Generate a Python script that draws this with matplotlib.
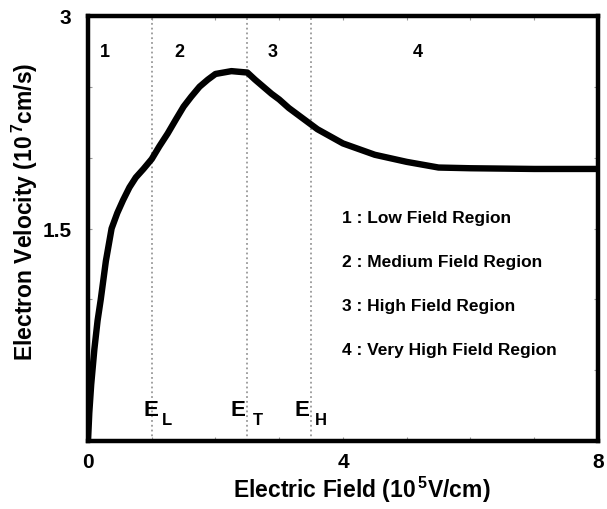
import matplotlib.pyplot as plt

# velocity-field characteristic (E in 1e5 V/cm, v in 1e7 cm/s)
field = [0, 0.02, 0.05, 0.1, 0.15, 0.2, 0.28, 0.37, 0.46, 0.55, 0.65, 0.75, 0.87, 1.0,
         1.12, 1.25, 1.38, 1.5, 1.62, 1.75, 1.88, 2.0, 2.25, 2.5, 2.62, 2.75, 2.88, 3.0,
         3.15, 3.3, 3.45, 3.6, 3.8, 4.0, 4.25, 4.5, 4.75, 5.0, 5.25, 5.5, 6.0, 7.0, 8.0]
velocity = [0, 0.2, 0.4, 0.65, 0.85, 1.0, 1.27, 1.5, 1.61, 1.7, 1.79, 1.86, 1.92, 1.99,
            2.08, 2.17, 2.27, 2.36, 2.43, 2.5, 2.55, 2.59, 2.61, 2.6, 2.55, 2.5, 2.45, 2.41,
            2.35, 2.3, 2.25, 2.2, 2.15, 2.1, 2.06, 2.02, 1.995, 1.97, 1.95, 1.93, 1.925,
            1.92, 1.92]

boundaries = [1.0, 2.5, 3.5]
boundary_names = ['L', 'T', 'H']
region_ids = ['1', '2', '3', '4']
region_x = [0.27, 1.44, 2.89, 5.18]
region_names = ['Low Field Region', 'Medium Field Region', 'High Field Region',
                'Very High Field Region']

plt.rcParams['font.family'] = ['Liberation Sans', 'DejaVu Sans']
plt.rcParams['font.weight'] = 'bold'
plt.rcParams['mathtext.fontset'] = 'custom'
plt.rcParams['mathtext.bf'] = 'Liberation Sans:bold'
plt.rcParams['mathtext.rm'] = 'Liberation Sans:bold'

fig = plt.figure(figsize=(6.07, 5.10), dpi=100)
ax = fig.add_axes([0.145, 0.133, 0.84, 0.834])

for b in boundaries:
    ax.axvline(b, color='#999999', linestyle=':', linewidth=1.3)

ax.plot(field, velocity, color='black', linewidth=4.6, solid_capstyle='butt',
        solid_joinstyle='round')

for rid, rx in zip(region_ids, region_x):
    ax.text(rx, 2.75, rid, ha='center', va='center', fontsize=13, fontweight='bold')

# boundary field labels: E with a lowered subscript
e_shift = [-0.02, -0.14, -0.14]
sub_shift = [0.26, 0.30, 0.30]
for b, name, de, ds in zip(boundaries, boundary_names, e_shift, sub_shift):
    ax.text(b + de, 0.22, 'E', ha='center', va='center', fontsize=16, fontweight='bold')
    ax.text(b + de + ds, 0.155, name, ha='center', va='center', fontsize=12,
            fontweight='bold')

for i, (rid, name) in enumerate(zip(region_ids, region_names)):
    ax.text(3.98, 1.58 - i * 0.31, f'{rid} : {name}', ha='left', va='center',
            fontsize=12.5, fontweight='bold')

ax.set_xlim(0, 8)
ax.set_ylim(0, 3)
ax.set_xticks([0, 1, 2, 3, 4, 5, 6, 7, 8])
ax.set_xticklabels(['0', '', '', '', '4', '', '', '', '8'])
ax.set_yticks([0, 0.5, 1, 1.5, 2, 2.5, 3])
ax.set_yticklabels(['', '', '', '1.5', '', '', '3'])
ax.tick_params(direction='in', length=3, width=0.8, color='#999999', top=True, right=True,
               labelsize=15)
ax.tick_params(axis='x', pad=8)
ax.tick_params(axis='y', pad=12)
for lab in ax.get_xticklabels() + ax.get_yticklabels():
    lab.set_fontweight('bold')
for s in ax.spines.values():
    s.set_linewidth(3.2)

ax.set_xlabel(r'Electric Field (10$^{\,5}$V/cm)', fontsize=16.5, fontweight='bold')
ax.set_ylabel(r'Electron Velocity (10$^{\,7}$cm/s)', fontsize=16.5, fontweight='bold')
ax.xaxis.set_label_coords(0.537, -0.113)
ax.xaxis.label.set_va('center')
ax.yaxis.set_label_coords(-0.124, 0.541)
ax.yaxis.label.set_va('center')

fig.savefig('out.png', dpi=100)
